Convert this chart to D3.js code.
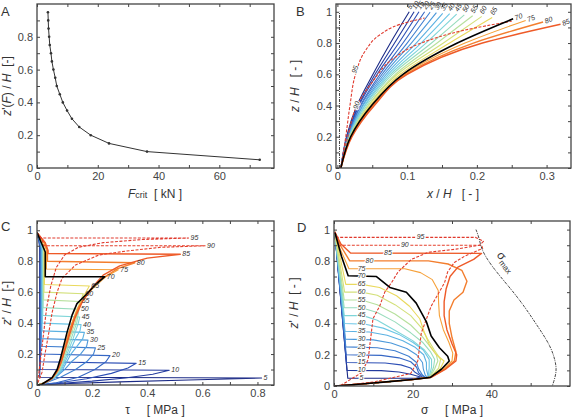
<!DOCTYPE html>
<html>
<head>
<meta charset="utf-8">
<script src="https://cdn.jsdelivr.net/npm/d3@7"></script>
<style>
  body { margin: 0; background: #fff; }
  svg { font-family: "Liberation Sans", Arial, sans-serif; }
</style>
</head>
<body>
<svg id="fig" width="575" height="418"></svg>
<script>
// ---- data ----
const levels = [5, 10, 15, 20, 25, 30, 35, 40, 45, 50, 55, 60, 65, 70, 75, 80, 85, 90, 95];
const levelColors = ["#1b2a86", "#233a9e", "#2d4fb5", "#3566c4", "#3f7fd0", "#4c98da", "#5bb1e2",
  "#6cc6e6", "#7ed5d8", "#98dcbc", "#b6e09c", "#d3e07a", "#ead95c", "#000000", "#f6a13a",
  "#f37e2e", "#ee5a28", "#e5402c", "#e03a2e"];

// panel A : critical force per level z'/H
const fcrit = [73.3, 36.2, 23.7, 17.7, 13.9, 11.5, 9.9, 8.5, 7.5, 6.5, 6.0, 5.4, 4.9, 4.6, 4.2, 4.0, 3.8, 3.7, 3.6];

// panel B : deflection lines [x/H, z/H]
const bCurves = [
  [[0.005,0],[0.013,0.2],[0.028,0.4],[0.051,0.6],[0.076,0.8],[0.103,1.0]],
  [[0.005,0],[0.0135,0.2],[0.030,0.4],[0.054,0.6],[0.082,0.8],[0.110,1.0]],
  [[0.005,0],[0.014,0.2],[0.031,0.4],[0.057,0.6],[0.088,0.8],[0.117,1.0]],
  [[0.005,0],[0.0145,0.2],[0.033,0.4],[0.061,0.6],[0.094,0.8],[0.125,1.0]],
  [[0.005,0],[0.015,0.2],[0.034,0.4],[0.064,0.6],[0.100,0.8],[0.133,0.998]],
  [[0.005,0],[0.0155,0.2],[0.036,0.4],[0.067,0.6],[0.106,0.8],[0.142,0.995]],
  [[0.005,0],[0.016,0.2],[0.037,0.4],[0.070,0.6],[0.113,0.8],[0.151,0.99]],
  [[0.005,0],[0.0165,0.2],[0.039,0.4],[0.073,0.6],[0.120,0.8],[0.161,0.988]],
  [[0.005,0],[0.017,0.2],[0.040,0.4],[0.076,0.6],[0.127,0.8],[0.171,0.985]],
  [[0.005,0],[0.0175,0.2],[0.042,0.4],[0.079,0.6],[0.135,0.8],[0.182,0.98]],
  [[0.005,0],[0.018,0.2],[0.044,0.4],[0.083,0.6],[0.143,0.8],[0.194,0.975]],
  [[0.005,0],[0.0185,0.2],[0.045,0.4],[0.086,0.6],[0.152,0.8],[0.207,0.97]],
  [[0.005,0],[0.019,0.2],[0.047,0.4],[0.090,0.6],[0.161,0.8],[0.222,0.963]],
  [[0.005,0],[0.019,0.2],[0.049,0.4],[0.094,0.6],[0.172,0.8],[0.252,0.955]],
  [[0.005,0],[0.020,0.2],[0.050,0.4],[0.096,0.6],[0.183,0.8],[0.270,0.945]],
  [[0.005,0],[0.020,0.2],[0.051,0.4],[0.098,0.6],[0.195,0.8],[0.295,0.935]],
  [[0.005,0],[0.021,0.2],[0.053,0.4],[0.100,0.6],[0.208,0.8],[0.320,0.92]],
  [[0.005,0],[0.015,0.2],[0.028,0.4],[0.05,0.55],[0.08,0.7],[0.12,0.8],[0.18,0.88],[0.25,0.94]],
  [[0.005,0],[0.012,0.2],[0.018,0.4],[0.026,0.6],[0.04,0.75],[0.06,0.85],[0.09,0.92],[0.125,0.96]]
];
const bLabelAt = [[0.103,1.0],[0.110,1.0],[0.117,1.0],[0.125,1.0],[0.133,0.998],[0.142,0.995],[0.151,0.99],
  [0.161,0.988],[0.171,0.985],[0.182,0.98],[0.194,0.975],[0.207,0.97],[0.222,0.963],[0.252,0.955],
  [0.270,0.945],[0.295,0.935],[0.320,0.92],[0.028,0.40],[0.026,0.63]];
const bDatum = [[0.003,0],[0.003,1.0]];

// panel C : shear stress profiles [tau MPa, z'/H]
const cCurves = [
  [[0,0.985],[0.007,0.93],[0.010,0.88],[0.010,0.05],[0.815,0.045],[0.55,0.032],[0.3,0.02],[0.12,0.01],[0.02,0.002],[0,0]],
  [[0,0.985],[0.008,0.93],[0.011,0.88],[0.011,0.1],[0.48,0.095],[0.42,0.07],[0.32,0.045],[0.2,0.025],[0.08,0.01],[0,0]],
  [[0,0.985],[0.008,0.93],[0.012,0.88],[0.012,0.15],[0.36,0.14],[0.33,0.11],[0.27,0.075],[0.18,0.04],[0.08,0.015],[0,0]],
  [[0,0.985],[0.009,0.93],[0.013,0.88],[0.013,0.2],[0.265,0.19],[0.25,0.15],[0.21,0.1],[0.15,0.05],[0.07,0.015],[0,0]],
  [[0,0.985],[0.010,0.93],[0.015,0.88],[0.015,0.25],[0.212,0.24],[0.205,0.2],[0.18,0.15],[0.14,0.1],[0.085,0.05],[0.04,0.02],[0,0]],
  [[0,0.985],[0.011,0.93],[0.016,0.88],[0.016,0.3],[0.185,0.29],[0.18,0.25],[0.158,0.2],[0.125,0.15],[0.1,0.1],[0.068,0.05],[0.038,0.02],[0,0]],
  [[0,0.985],[0.012,0.93],[0.018,0.88],[0.018,0.35],[0.172,0.34],[0.166,0.3],[0.145,0.25],[0.123,0.2],[0.093,0.1],[0.066,0.05],[0.037,0.02],[0,0]],
  [[0,0.985],[0.013,0.93],[0.019,0.88],[0.019,0.4],[0.16,0.39],[0.156,0.35],[0.14,0.3],[0.115,0.2],[0.089,0.1],[0.064,0.05],[0.037,0.02],[0,0]],
  [[0,0.985],[0.015,0.93],[0.021,0.88],[0.021,0.45],[0.155,0.44],[0.15,0.4],[0.131,0.3],[0.109,0.2],[0.086,0.1],[0.062,0.05],[0.036,0.02],[0,0]],
  [[0,0.985],[0.016,0.93],[0.022,0.88],[0.022,0.5],[0.152,0.49],[0.144,0.4],[0.124,0.3],[0.104,0.2],[0.083,0.1],[0.061,0.05],[0.036,0.02],[0,0]],
  [[0,0.985],[0.017,0.93],[0.024,0.88],[0.024,0.55],[0.155,0.54],[0.152,0.5],[0.138,0.4],[0.118,0.3],[0.1,0.2],[0.081,0.1],[0.06,0.05],[0.035,0.02],[0,0]],
  [[0,0.985],[0.018,0.93],[0.025,0.88],[0.025,0.6],[0.168,0.59],[0.15,0.5],[0.132,0.4],[0.114,0.3],[0.097,0.2],[0.079,0.1],[0.059,0.05],[0.035,0.02],[0,0]],
  [[0,0.985],[0.019,0.93],[0.027,0.88],[0.027,0.65],[0.19,0.64],[0.165,0.56],[0.142,0.48],[0.127,0.4],[0.11,0.3],[0.094,0.2],[0.077,0.1],[0.058,0.05],[0.035,0.02],[0,0]],
  [[0,0.985],[0.018,0.91],[0.03,0.86],[0.03,0.7],[0.246,0.7],[0.21,0.645],[0.176,0.58],[0.145,0.526],[0.127,0.45],[0.109,0.34],[0.097,0.254],[0.085,0.17],[0.073,0.10],[0.055,0.048],[0.018,0.005],[0,0]],
  [[0,0.985],[0.025,0.92],[0.034,0.87],[0.034,0.75],[0.295,0.745],[0.25,0.7],[0.2,0.62],[0.16,0.53],[0.135,0.44],[0.113,0.33],[0.1,0.24],[0.087,0.16],[0.074,0.095],[0.056,0.045],[0.018,0.005],[0,0]],
  [[0,0.985],[0.028,0.92],[0.038,0.87],[0.038,0.8],[0.355,0.79],[0.29,0.75],[0.23,0.68],[0.185,0.6],[0.15,0.5],[0.122,0.37],[0.104,0.25],[0.09,0.16],[0.076,0.095],[0.056,0.045],[0.018,0.005],[0,0]],
  [[0,0.985],[0.03,0.92],[0.04,0.87],[0.04,0.85],[0.52,0.845],[0.4,0.82],[0.3,0.77],[0.24,0.71],[0.2,0.63],[0.165,0.54],[0.137,0.43],[0.117,0.32],[0.1,0.22],[0.086,0.14],[0.07,0.08],[0.05,0.035],[0.015,0.004],[0,0]],
  [[0,0.985],[0.02,0.93],[0.025,0.9],[0.61,0.9],[0.45,0.89],[0.32,0.865],[0.224,0.84],[0.14,0.776],[0.091,0.69],[0.073,0.6],[0.055,0.47],[0.043,0.34],[0.03,0.21],[0.018,0.08],[0,0]],
  [[0,0.985],[0.015,0.95],[0.55,0.95],[0.38,0.94],[0.24,0.92],[0.15,0.89],[0.1,0.84],[0.07,0.76],[0.05,0.64],[0.035,0.5],[0.025,0.35],[0.015,0.2],[0.007,0.08],[0,0]]
];
const cLabelAt = [[0.815,0.045],[0.48,0.095],[0.36,0.14],[0.265,0.19],[0.212,0.24],[0.185,0.29],[0.172,0.34],
  [0.16,0.39],[0.155,0.44],[0.152,0.49],[0.155,0.54],[0.168,0.59],[0.19,0.64],[0.246,0.7],[0.295,0.745],
  [0.355,0.79],[0.52,0.845],[0.61,0.9],[0.55,0.95]];

// panel D : normal stress profiles [sigma MPa, z'/H]
const dBottom = [[20,0.042],[14,0.028],[7,0.013],[0.3,0]];
const dCurves = [
  [[0.2,0.985],[3.5,0.05],[23,0.05]],
  [[0.2,0.985],[3.3,0.1],[12,0.098],[16.5,0.09],[19.5,0.075],[22,0.058]],
  [[0.2,0.985],[3.2,0.15],[13,0.147],[17,0.135],[19.5,0.115],[20.5,0.09],[22.5,0.057]],
  [[0.2,0.985],[3.1,0.2],[12,0.196],[16.5,0.18],[19.5,0.155],[21,0.12],[21.5,0.085],[23,0.055]],
  [[0.2,0.985],[3.0,0.25],[11,0.245],[15.5,0.225],[19,0.19],[21,0.15],[21.5,0.11],[22.5,0.07],[23.5,0.052]],
  [[0.2,0.985],[2.9,0.3],[10,0.295],[14.5,0.275],[18.5,0.24],[21,0.2],[22.5,0.15],[22.7,0.11],[23.2,0.07],[23.8,0.053]],
  [[0.2,0.985],[2.8,0.35],[9,0.345],[13.5,0.325],[17.5,0.29],[20.5,0.25],[22.8,0.2],[23.5,0.15],[23.5,0.11],[24,0.054]],
  [[0.2,0.985],[2.7,0.4],[8,0.395],[12.5,0.37],[16.5,0.33],[20,0.28],[22.7,0.23],[24.2,0.17],[24.2,0.12],[24,0.055]],
  [[0.2,0.985],[2.6,0.45],[7.4,0.45],[11,0.42],[15.9,0.35],[20,0.29],[23,0.23],[24.8,0.17],[24.8,0.12],[24.2,0.056]],
  [[0.2,0.985],[2.6,0.5],[7,0.5],[11,0.47],[15.5,0.41],[19.5,0.34],[22.5,0.28],[24.5,0.22],[25.6,0.17],[25.3,0.12],[24.3,0.056]],
  [[0.2,0.985],[2.6,0.55],[7,0.55],[11,0.52],[15.5,0.46],[19.5,0.39],[22.3,0.32],[24.2,0.26],[26,0.2],[26.4,0.16],[25.6,0.11],[24.4,0.057]],
  [[0.2,0.985],[2.7,0.6],[7,0.6],[11,0.58],[15.5,0.52],[19.5,0.45],[22.3,0.37],[23.8,0.3],[25.5,0.23],[27.1,0.17],[26.6,0.115],[24.5,0.058]],
  [[0.2,0.985],[3.0,0.65],[7,0.65],[11.6,0.63],[15.9,0.577],[19.2,0.51],[21.8,0.43],[23,0.34],[24.3,0.26],[26,0.2],[28,0.16],[27,0.11],[24.6,0.058]],
  [[0.25,0.98],[1.9,0.83],[3.6,0.705],[10.8,0.70],[14.2,0.63],[18.4,0.6],[20.9,0.53],[23.5,0.41],[24.7,0.32],[26.8,0.245],[28.9,0.19],[29.3,0.16],[27.3,0.107],[24.5,0.055]],
  [[0.2,0.985],[1.5,0.88],[3.8,0.75],[18,0.75],[22,0.725],[25,0.68],[26.5,0.61],[26.6,0.53],[26.8,0.45],[27.8,0.36],[29.2,0.28],[30.2,0.21],[30,0.16],[27.8,0.11],[24.6,0.056]],
  [[0.2,0.985],[1.6,0.9],[4,0.8],[24,0.8],[29,0.78],[32.5,0.74],[33.8,0.67],[32.8,0.6],[30.5,0.55],[29.3,0.48],[29.3,0.4],[30,0.31],[31,0.22],[30.6,0.16],[28.2,0.11],[24.7,0.056]],
  [[0.2,0.985],[1.7,0.91],[4.2,0.85],[37.5,0.848],[35.5,0.81],[31.5,0.76],[29.5,0.7],[28.5,0.62],[28,0.54],[28,0.45],[28.7,0.36],[30,0.27],[31.2,0.2],[31,0.16],[28.5,0.11],[24.8,0.056]],
  [[0.2,0.985],[1.2,0.9],[37.5,0.9],[37.8,0.88],[33.2,0.83],[30.6,0.79],[28.9,0.73],[28.1,0.66],[24.7,0.51],[22.2,0.34],[21.3,0.16],[19.5,0.08],[10,0.025],[0.5,0]],
  [[0.2,0.985],[0.8,0.95],[36,0.95],[38,0.925],[37,0.9],[31,0.875],[24,0.855],[19.7,0.81],[16.3,0.73],[14.6,0.66],[12.9,0.6],[11.6,0.51],[9.9,0.43],[9.5,0.34],[9.1,0.26],[8.7,0.17],[7,0.085],[1.5,0]]
];
const dLabelAt = [[7,0.05],[7,0.1],[7,0.15],[7,0.2],[7,0.25],[7,0.3],[7,0.35],[7,0.4],[7,0.45],[7,0.5],
  [7,0.55],[7,0.6],[7,0.65],[7,0.7],[7,0.75],[9,0.8],[13.7,0.848],[18,0.9],[22,0.95]];
const sigmaMax = [[36.1,1.0],[37,0.94],[37.4,0.876],[39.9,0.77],[45,0.62],[48.4,0.51],[51.7,0.385],
  [55.1,0.256],[56.4,0.15],[56.6,0.085],[55.5,0]];

// ---- drawing ----
const svg = d3.select("#fig");
const fontFam = "'Liberation Sans', Arial, sans-serif";
const fmt = d => d === 0 ? "0" : d3.format("~g")(d);
const sp = n => "\u00a0".repeat(n);

function makePanel(o) {
  const x = d3.scaleLinear().domain(o.xDomain).range([o.left, o.right]);
  const y = d3.scaleLinear().domain(o.yDomain).range([o.bottom, o.top]);
  const g = svg.append("g");
  const clipId = "clip" + o.name;
  g.append("clipPath").attr("id", clipId).append("rect")
    .attr("x", o.left).attr("y", o.top)
    .attr("width", o.right - o.left).attr("height", o.bottom - o.top);
  const plot = g.append("g").attr("clip-path", `url(#${clipId})`);
  const axes = g.append("g");
  const allX = o.xMajor.concat(o.xMinor), allY = o.yMajor.concat(o.yMinor);

  axes.append("g").attr("transform", `translate(0,${o.bottom})`)
    .call(d3.axisBottom(x).tickValues(o.xMajor).tickSize(-3).tickPadding(4).tickFormat(fmt));
  axes.append("g").attr("transform", `translate(0,${o.bottom})`)
    .call(d3.axisBottom(x).tickValues(o.xMinor).tickSize(-3).tickFormat(""));
  axes.append("g").attr("transform", `translate(0,${o.top})`)
    .call(d3.axisTop(x).tickValues(allX).tickSize(-3).tickFormat(""));
  axes.append("g").attr("transform", `translate(${o.left},0)`)
    .call(d3.axisLeft(y).tickValues(o.yMajor).tickSize(-3).tickPadding(4).tickFormat(fmt));
  axes.append("g").attr("transform", `translate(${o.left},0)`)
    .call(d3.axisLeft(y).tickValues(o.yMinor).tickSize(-3).tickFormat(""));
  axes.append("g").attr("transform", `translate(${o.right},0)`)
    .call(d3.axisRight(y).tickValues(allY).tickSize(-3).tickFormat(""));
  axes.selectAll(".domain").remove();
  axes.selectAll("line").attr("stroke", "#444");
  axes.selectAll("text").attr("font-size", 11).attr("fill", "#444").attr("font-family", fontFam);

  g.append("rect")
    .attr("x", o.left).attr("y", o.top)
    .attr("width", o.right - o.left).attr("height", o.bottom - o.top)
    .attr("fill", "none").attr("stroke", "#444").attr("stroke-width", 1.3);

  svg.append("text").attr("x", o.letterX).attr("y", o.letterY)
    .attr("font-size", 13).attr("fill", "#333").text(o.name);

  const line = d3.line().x(d => x(d[0])).y(d => y(d[1]));
  return { x, y, plot, g, line, o };
}

function title(parts, tx, ty, rotate) {
  const t = svg.append("text")
    .attr("transform", `translate(${tx},${ty})` + (rotate ? " rotate(-90)" : ""))
    .attr("text-anchor", "middle").attr("font-size", 12).attr("fill", "#333");
  parts.forEach(p => {
    const s = t.append("tspan").text(p[0]);
    if (p[1] === "i") s.attr("font-style", "italic");
    if (p[1] === "s") s.attr("font-size", 9);
  });
}

function curveStyle(i) {
  const k = levels[i];
  return {
    color: levelColors[i],
    width: k === 70 ? 1.6 : (k === 80 || k === 85 ? 1.4 : 1.1),
    dash: k >= 90 ? "3,1.5" : null
  };
}

function drawFamily(p, curves, lineGen) {
  const order = d3.range(curves.length).filter(i => levels[i] !== 70).concat([levels.indexOf(70)]);
  order.forEach(i => {
    const st = curveStyle(i);
    p.plot.append("path").datum(curves[i])
      .attr("d", lineGen)
      .attr("fill", "none").attr("stroke", st.color)
      .attr("stroke-width", st.width)
      .attr("stroke-dasharray", st.dash)
      .attr("stroke-linejoin", "round");
  });
}

function curveLabel(p, at, k, angle, dx, dy, halo) {
  const t = p.g.append("text")
    .attr("transform", `translate(${p.x(at[0]) + dx},${p.y(at[1]) + dy}) rotate(${angle})`)
    .attr("font-size", 7).attr("font-style", "italic").attr("fill", "#333")
    .attr("dominant-baseline", "middle")
    .text(k);
  if (halo) t.attr("stroke", "#fff").attr("stroke-width", 2).attr("paint-order", "stroke").attr("text-anchor", "middle");
  return t;
}

// ---- Panel A ----
const A = makePanel({ name: "A", left: 37, right: 274, top: 4, bottom: 168,
  xDomain: [0, 78], yDomain: [0, 1.0],
  xMajor: [0, 20, 40, 60], xMinor: [10, 30, 50, 70],
  yMajor: [0, 0.2, 0.4, 0.6, 0.8], yMinor: [0.1, 0.3, 0.5, 0.7, 0.9],
  letterX: 1, letterY: 16 });
const aPts = levels.map((k, i) => [fcrit[i], k / 100]);
A.plot.append("path").datum(aPts).attr("d", A.line.curve(d3.curveLinear))
  .attr("fill", "none").attr("stroke", "#333").attr("stroke-width", 1);
A.plot.selectAll("circle").data(aPts).join("circle")
  .attr("cx", d => A.x(d[0])).attr("cy", d => A.y(d[1])).attr("r", 1.3).attr("fill", "#333");
title([["F", "i"], ["crit", "s"], [sp(2) + "[ kN ]"]], 155, 198);
title([["z", "i"], ["'("], ["F", "i"], [")" + sp(1) + "/" + sp(1)], ["H", "i"], [sp(2) + "[-]"]], 11, 86, true);

// ---- Panel B ----
const B = makePanel({ name: "B", left: 336, right: 571, top: 4, bottom: 168,
  xDomain: [-0.002, 0.335], yDomain: [0, 1.05],
  xMajor: [0, 0.1, 0.2, 0.3], xMinor: [0.05, 0.15, 0.25],
  yMajor: [0, 0.2, 0.4, 0.6, 0.8, 1], yMinor: [0.1, 0.3, 0.5, 0.7, 0.9],
  letterX: 296, letterY: 16 });
B.plot.append("path").datum(bDatum).attr("d", d3.line().x(d => B.x(d[0])).y(d => B.y(d[1])))
  .attr("stroke", "#333").attr("stroke-width", 0.9).attr("stroke-dasharray", "3,1,1,1");
drawFamily(B, bCurves, d3.line().x(d => B.x(d[0])).y(d => B.y(d[1])).curve(d3.curveMonotoneY));
levels.forEach((k, i) => {
  if (k <= 65) curveLabel(B, bLabelAt[i], k, -60, 0, -3, false);
  else if (k <= 85) curveLabel(B, bLabelAt[i], k, -22, 2, 0, false);
  else curveLabel(B, bLabelAt[i], k, -72, 0, 0, true);
});
title([["x", "i"], [sp(1) + "/" + sp(1)], ["H", "i"], [sp(3) + "[" + sp(1) + "-" + sp(1) + "]"]], 453, 198);
title([["z", "i"], [sp(1) + "/" + sp(1)], ["H", "i"], [sp(3) + "[" + sp(1) + "-" + sp(1) + "]"]], 299, 86, true);

// ---- Panel C ----
const C = makePanel({ name: "C", left: 37, right: 274, top: 221, bottom: 385,
  xDomain: [0, 0.86], yDomain: [0, 1.06],
  xMajor: [0, 0.2, 0.4, 0.6, 0.8], xMinor: [0.1, 0.3, 0.5, 0.7],
  yMajor: [0, 0.2, 0.4, 0.6, 0.8, 1], yMinor: [0.1, 0.3, 0.5, 0.7, 0.9],
  letterX: 1, letterY: 231 });
drawFamily(C, cCurves, d3.line().x(d => C.x(d[0])).y(d => C.y(d[1])).curve(d3.curveLinear));
levels.forEach((k, i) => curveLabel(C, cLabelAt[i], k, 0, 2, 0, false));
title([["τ"], [sp(5) + "[ MPa ]"]], 155, 414);
title([["z", "i"], ["'" + sp(1) + "/" + sp(1)], ["H", "i"], [sp(2) + "[-]"]], 11, 303, true);

// ---- Panel D ----
const D = makePanel({ name: "D", left: 334, right: 570, top: 221, bottom: 386,
  xDomain: [0, 60], yDomain: [0, 1.055],
  xMajor: [0, 20, 40], xMinor: [10, 30, 50],
  yMajor: [0, 0.2, 0.4, 0.6, 0.8, 1], yMinor: [0.1, 0.3, 0.5, 0.7, 0.9],
  letterX: 297, letterY: 232 });
const dFull = dCurves.map((c, i) => levels[i] >= 90 ? c : c.concat(dBottom));
drawFamily(D, dFull, d3.line().x(d => D.x(d[0])).y(d => D.y(d[1])).curve(d3.curveLinear));
D.plot.append("path").datum(sigmaMax).attr("d", d3.line().x(d => D.x(d[0])).y(d => D.y(d[1])).curve(d3.curveBasis))
  .attr("fill", "none").attr("stroke", "#333").attr("stroke-width", 0.9).attr("stroke-dasharray", "3,1,1,1");
levels.forEach((k, i) => curveLabel(D, dLabelAt[i], k, 0, 0, 0, true));
const sm = D.g.append("text")
  .attr("transform", `translate(${D.x(43)},${D.y(0.78)}) rotate(52)`)
  .attr("font-size", 12).attr("fill", "#333").attr("text-anchor", "middle");
sm.append("tspan").text("σ");
sm.append("tspan").attr("font-size", 8).attr("dy", 3).text("max");
title([["σ"], [sp(5) + "[ MPa ]"]], 452, 414);
title([["z", "i"], ["'" + sp(1) + "/" + sp(1)], ["H", "i"], [sp(2) + "[" + sp(1) + "-" + sp(1) + "]"]], 298, 303, true);
</script>
</body>
</html>
